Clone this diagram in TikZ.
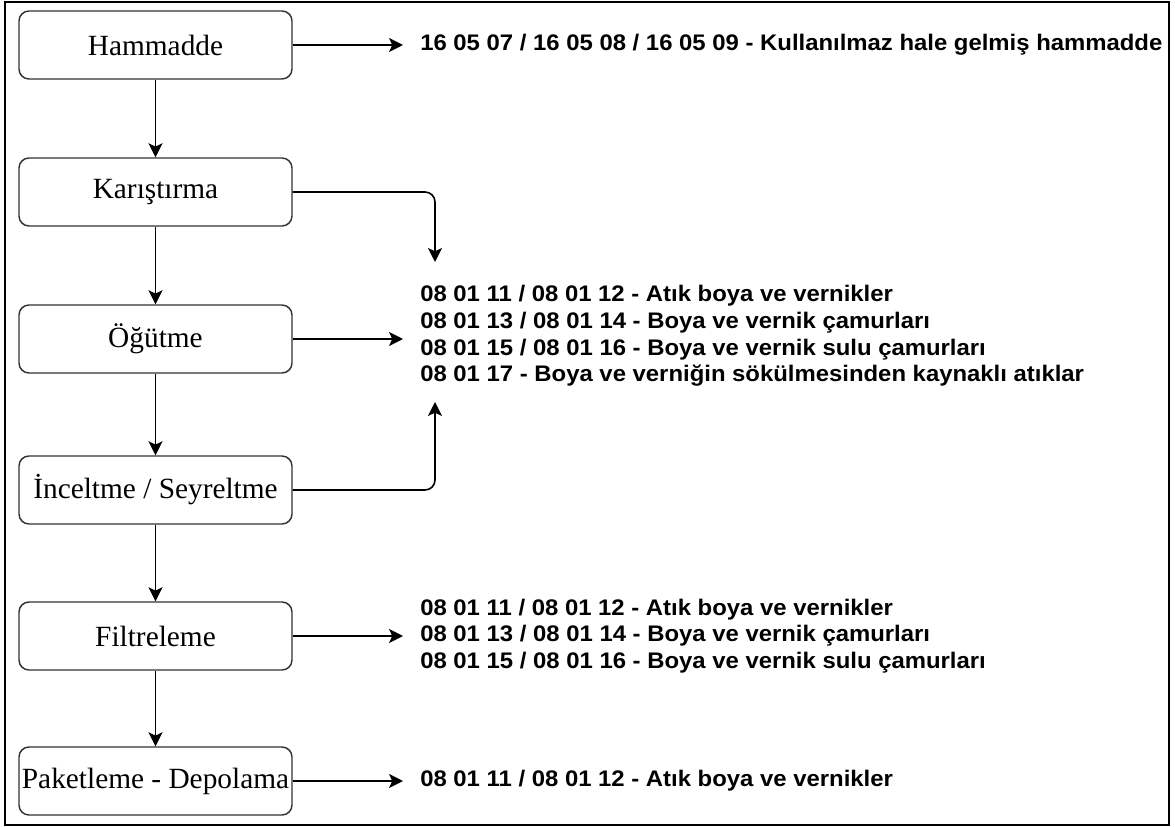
\documentclass[tikz,border=0pt]{standalone}
\usepackage{fontspec}
\setmainfont{Liberation Serif}
\newfontfamily\codefont[FakeStretch=1.06]{Liberation Sans}
\usetikzlibrary{arrows.meta,positioning,calc}
\tikzset{
  procbox/.style={draw=black!80,line width=1.1pt,rounded corners=7.5pt,fill=white,
    minimum width=204.75pt,minimum height=51pt,inner sep=0pt,font=\fontsize{22}{26}\selectfont},
  wastetxt/.style={anchor=west,align=left,inner xsep=12.75pt,inner ysep=0pt,
    font=\codefont\bfseries\fontsize{16.9}{20}\selectfont},
  flow/.style={-{Stealth[length=10.5pt,width=10.5pt,inset=2.5pt]},line width=1.2pt,rounded corners=7.5pt}
}
\begin{document}
\begin{tikzpicture}[x=0.75pt,y=-0.75pt]
  \useasboundingbox (0,0) rectangle (1175,827);
  \draw[line width=1.5pt] (5,2) rectangle (1169,825);
  % process steps
  \foreach \n/\y/\t in {ham/45/Hammadde,kar/192/Karıştırma,ogu/339/Öğütme,inc/490/{İnceltme / Seyreltme},fil/636/Filtreleme,pak/781/{Paketleme - Depolama}}
    \node[procbox] (\n) at (155.5,\y) {\t};
  \foreach \a/\b in {ham/kar,kar/ogu,ogu/inc,inc/fil,fil/pak} \draw[flow] (\a) -- (\b);
  % waste codes
  \node[wastetxt] (w1) at (403,45) {16 05 07 / 16 05 08 / 16 05 09 - Kullanılmaz hale gelmiş hammadde};
  \node[wastetxt] (w2) at (403,336) {08 01 11 / 08 01 12 - Atık boya ve vernikler\\
    08 01 13 / 08 01 14 - Boya ve vernik çamurları\\
    08 01 15 / 08 01 16 - Boya ve vernik sulu çamurları\\
    08 01 17 - Boya ve verniğin sökülmesinden kaynaklı atıklar};
  \node[wastetxt] (w3) at (403,636) {08 01 11 / 08 01 12 - Atık boya ve vernikler\\
    08 01 13 / 08 01 14 - Boya ve vernik çamurları\\
    08 01 15 / 08 01 16 - Boya ve vernik sulu çamurları};
  \node[wastetxt] (w4) at (403,781) {08 01 11 / 08 01 12 - Atık boya ve vernikler};
  \coordinate (w2top) at (435,262);
  \coordinate (w2bot) at (435,402);
  \draw[flow] (ham.east) -- (ham.east -| w1.west);
  \draw[flow] (kar.east) -| (w2top);
  \draw[flow] (ogu.east) -- (ogu.east -| w2.west);
  \draw[flow] (inc.east) -| (w2bot);
  \draw[flow] (fil.east) -- (fil.east -| w3.west);
  \draw[flow] (pak.east) -- (pak.east -| w4.west);
\end{tikzpicture}
\end{document}
